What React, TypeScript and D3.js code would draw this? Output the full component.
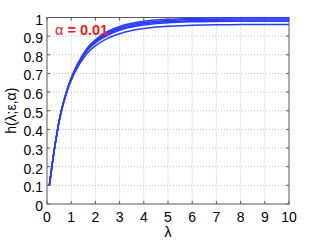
import React from "react";
import * as d3 from "d3";

const lambdas = [0.1, 0.2, 0.3, 0.4, 0.5, 0.6, 0.8, 1, 1.25, 1.5, 1.75, 2, 2.5, 3, 3.5, 4, 5, 6, 7, 8, 9, 10];
const curveA = [0.1, 0.2, 0.29, 0.37, 0.445, 0.505, 0.6, 0.675, 0.748, 0.805, 0.85, 0.88, 0.925, 0.952, 0.969, 0.98, 0.99, 0.995, 0.997, 0.998, 0.998, 0.998];
const curveB = [0.1, 0.2, 0.29, 0.37, 0.445, 0.505, 0.6, 0.674, 0.746, 0.8, 0.845, 0.875, 0.918, 0.945, 0.962, 0.973, 0.984, 0.989, 0.991, 0.992, 0.992, 0.992];
const curveC = [0.1, 0.2, 0.29, 0.37, 0.444, 0.504, 0.598, 0.672, 0.743, 0.797, 0.84, 0.869, 0.911, 0.938, 0.955, 0.966, 0.978, 0.983, 0.985, 0.986, 0.986, 0.986];
const curveD = [0.1, 0.2, 0.29, 0.369, 0.443, 0.503, 0.597, 0.67, 0.74, 0.793, 0.835, 0.864, 0.905, 0.932, 0.949, 0.96, 0.972, 0.977, 0.979, 0.98, 0.98, 0.98];
const curveE = [0.1, 0.2, 0.289, 0.367, 0.44, 0.499, 0.591, 0.662, 0.73, 0.78, 0.82, 0.848, 0.888, 0.913, 0.93, 0.941, 0.953, 0.958, 0.961, 0.962, 0.963, 0.963];
const curves = [curveE, curveD, curveC, curveB, curveA];
const xTicks = [0, 1, 2, 3, 4, 5, 6, 7, 8, 9, 10];
const yTicks = [0, 0.1, 0.2, 0.3, 0.4, 0.5, 0.6, 0.7, 0.8, 0.9, 1];
const yTickLabels = ["0", "0.1", "0.2", "0.3", "0.4", "0.5", "0.6", "0.7", "0.8", "0.9", "1"];

export default function App() {
  const W = 319, H = 240;
  const L = 47, R = 289, T = 17.5, B = 204;
  const x = d3.scaleLinear().domain([0, 10]).range([L, R]);
  const y = d3.scaleLinear().domain([0, 1]).range([B, T]);
  const line = d3.line<number>().x((_, i) => x(lambdas[i])).y((d) => y(d)).curve(d3.curveMonotoneX);
  const font = "'Liberation Sans', Arial, Helvetica, sans-serif";
  return (
    <svg width={W} height={H} style={{ position: "absolute", left: 0, top: 0, background: "#fff" }}>
      <defs>
        <clipPath id="pc"><rect x={L} y={T - 1} width={R - L} height={B - T + 1} /></clipPath>
      </defs>
      {xTicks.slice(1, -1).map((t) => (
        <line key={"gx" + t} x1={x(t)} x2={x(t)} y1={T} y2={B} stroke="#bdbdbd" strokeWidth={1} strokeDasharray="1,2" />
      ))}
      {yTicks.slice(1, -1).map((t) => (
        <line key={"gy" + t} x1={L} x2={R} y1={y(t)} y2={y(t)} stroke="#bdbdbd" strokeWidth={1} strokeDasharray="1,2" />
      ))}
      <rect x={L} y={T} width={R - L} height={B - T} fill="none" stroke="#5a5a5a" strokeWidth={1} />
      {xTicks.map((t) => (
        <g key={"tx" + t}>
          <line x1={x(t)} x2={x(t)} y1={B} y2={B - 3} stroke="#5a5a5a" />
          <line x1={x(t)} x2={x(t)} y1={T} y2={T + 3} stroke="#5a5a5a" />
          <text x={x(t)} y={222} textAnchor="middle" fontSize={14} fontFamily={font} fill="#000">{t}</text>
        </g>
      ))}
      {yTicks.map((t, i) => (
        <g key={"ty" + t}>
          <line x1={L} x2={L + 3} y1={y(t)} y2={y(t)} stroke="#5a5a5a" />
          <line x1={R} x2={R - 3} y1={y(t)} y2={y(t)} stroke="#5a5a5a" />
          <text x={43} y={y(t) + 7} textAnchor="end" fontSize={14} fontFamily={font} fill="#000">{yTickLabels[i]}</text>
        </g>
      ))}
      <g clipPath="url(#pc)">
        {curves.map((c, i) => (
          <path key={i} d={line(c) || ""} fill="none" stroke="#2a3cff" strokeWidth={1.5} />
        ))}
      </g>
      <text x={55} y={35} fontSize={14.5} fontFamily={font} fill="#ee1c1c">
        <tspan>α</tspan><tspan fontWeight="bold"> = 0.01</tspan>
      </text>
      <text x={168} y={237} textAnchor="middle" fontSize={14} fontFamily={font} fill="#000">λ</text>
      <text transform={`translate(16,${(T + B) / 2}) rotate(-90)`} textAnchor="middle" fontSize={14} fontFamily={font} fill="#000">h(λ;ε,α)</text>
    </svg>
  );
}
